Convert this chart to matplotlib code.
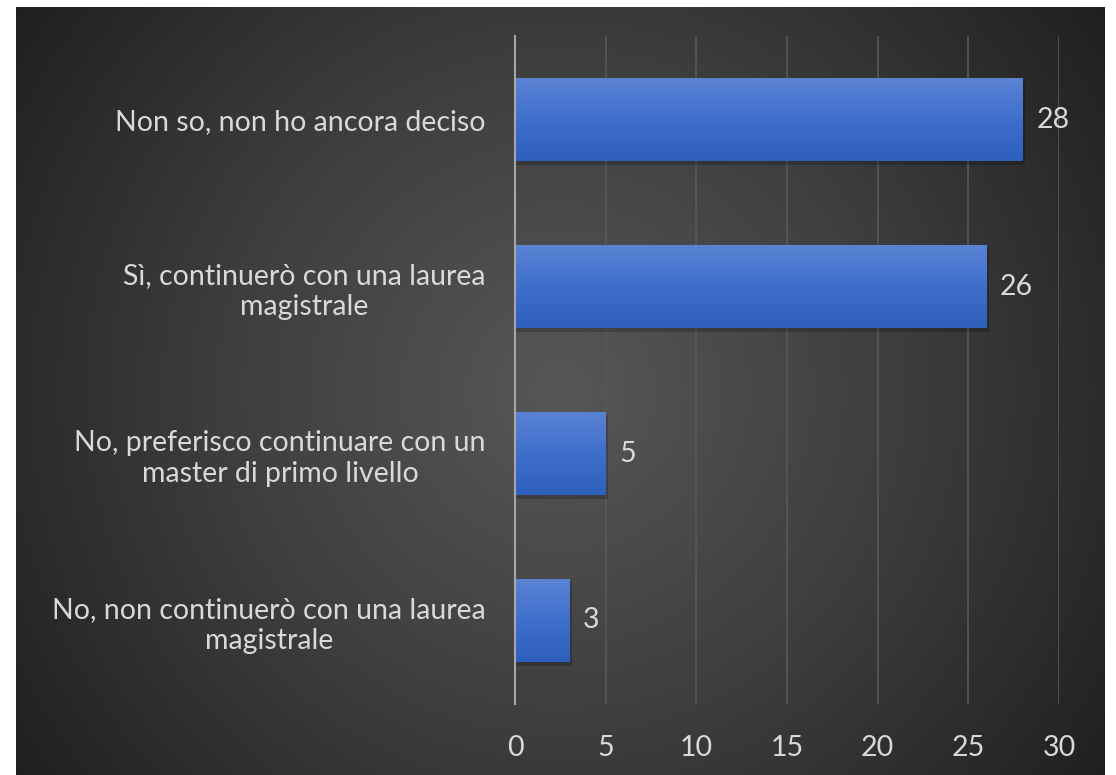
import numpy as np
import matplotlib.pyplot as plt
from matplotlib.colors import LinearSegmentedColormap

# data
categories = [
    "No, non continuerò con una laurea\nmagistrale",
    "No, preferisco continuare con un\nmaster di primo livello",
    "Sì, continuerò con una laurea\nmagistrale",
    "Non so, non ho ancora deciso",
]
counts = [3, 5, 26, 28]
xticks = [0, 5, 10, 15, 20, 25, 30]

W, H = 1116, 775
FS = 20.5
fig = plt.figure(figsize=(W / 100, H / 100), dpi=100, facecolor="white")

# dark radial background
bx0, bx1, by0, by1 = 16, 1105, 7, 775
bg = fig.add_axes([bx0 / W, 0, (bx1 - bx0) / W, (by1 - by0) / H])
bg.axis("off")
yy, xx = np.mgrid[0:(by1 - by0), 0:(bx1 - bx0)]
cx, cy = (bx1 - bx0) / 2, (by1 - by0) / 2
r = np.sqrt((xx - cx) ** 2 + (yy - cy) ** 2) / np.sqrt(cx ** 2 + cy ** 2)
bg_cmap = LinearSegmentedColormap.from_list("bg", ["#575757", "#3e3e3e", "#202020"])
bg.imshow(r, cmap=bg_cmap, vmin=0, vmax=1, aspect="auto", interpolation="bilinear")

# main axes
ax = fig.add_axes([515 / W, 1 - 704 / H, (1059 - 515) / W, (704 - 36) / H])
ax.patch.set_alpha(0)
ypos = np.arange(len(categories))
bars = ax.barh(ypos, counts, height=0.5, color="none", zorder=3)

bar_cmap = LinearSegmentedColormap.from_list("bar", ["#2d5fbc", "#3f6fcc", "#5b83d4"])
grad = np.linspace(0, 1, 100).reshape(-1, 1)
for b in bars:
    x, y = b.get_x(), b.get_y()
    w, h = b.get_width(), b.get_height()
    # soft shadow
    ax.barh(y + h / 2 - 0.02, w + 0.12, height=h, left=x, color="black",
            alpha=0.2, zorder=2)
    im = ax.imshow(grad, cmap=bar_cmap, aspect="auto", origin="lower",
                   extent=[x, x + w, y, y + h], zorder=3)
    im.set_clip_path(b)
    ax.text(w + 0.75, y + h / 2, str(w), ha="left", va="center",
            color="#d9d9d9", fontsize=FS, family="Lato")

ax.set_xlim(0, 30)
ax.set_ylim(-0.5, len(categories) - 0.5)
ax.set_xticks(xticks)
ax.set_xticklabels([str(t) for t in xticks])
ax.set_yticks(ypos)
ax.set_yticklabels(categories, multialignment="center", linespacing=1.25)
ax.tick_params(axis="both", length=0, colors="#d9d9d9", labelsize=FS)
ax.tick_params(axis="x", pad=22)
ax.tick_params(axis="y", pad=21)
for lab in ax.get_xticklabels() + ax.get_yticklabels():
    lab.set_family("Lato")
ax.grid(axis="x", color="#585858", linewidth=1.2, zorder=0)
for s in ["top", "right", "bottom"]:
    ax.spines[s].set_visible(False)
ax.spines["left"].set_color("#a6a6a6")
ax.spines["left"].set_linewidth(1.5)
ax.spines["left"].set_zorder(4)

fig.savefig("out.png", dpi=100, facecolor="white")
